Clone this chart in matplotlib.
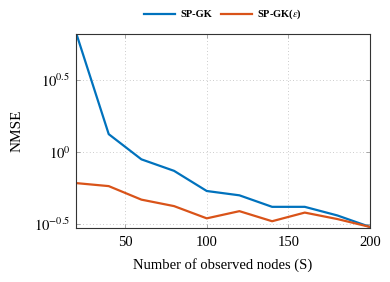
import numpy as np
import matplotlib
matplotlib.use("Agg")
import matplotlib.pyplot as plt

# data (log10 of NMSE)
nodes = [20, 40, 60, 80, 100, 120, 140, 160, 180, 200]
log_sp_gk = [0.83, 0.125, -0.05, -0.13, -0.27, -0.30, -0.38, -0.38, -0.44, -0.52]
log_sp_gk_eps = [-0.215, -0.236, -0.33, -0.375, -0.46, -0.41, -0.48, -0.42, -0.465, -0.52]

sp_gk = 10 ** np.array(log_sp_gk)
sp_gk_eps = 10 ** np.array(log_sp_gk_eps)

plt.rcParams['font.family'] = ['Liberation Serif', 'DejaVu Serif']
plt.rcParams['mathtext.fontset'] = 'stix'

fig = plt.figure(figsize=(3.9, 2.82), dpi=100)
ax = fig.add_axes([0.195, 0.191, 0.754, 0.688])

ax.plot(nodes, sp_gk, color='#0072BD', lw=1.6, label='SP-GK')
ax.plot(nodes, sp_gk_eps, color='#D95319', lw=1.6, label=r'SP-GK($\epsilon$)')

ax.set_yscale('log')
ax.set_xlim(20, 200)
ax.set_ylim(10 ** -0.528, 10 ** 0.82)
ax.set_xticks([50, 100, 150, 200])
ax.set_yticks([10 ** -0.5, 1, 10 ** 0.5])
ax.set_yticklabels([r'$10^{-0.5}$', r'$10^{0}$', r'$10^{0.5}$'])
ax.yaxis.set_minor_locator(matplotlib.ticker.NullLocator())
ax.tick_params(direction='in', top=True, right=True, length=3, width=0.5,
               color='#888888', labelsize=10.5)
ax.tick_params(axis='x', pad=6)
ax.tick_params(axis='y', pad=4)
ax.grid(True, linestyle=(0, (1, 3)), color='#bbbbbb', lw=0.6)
for s in ax.spines.values():
    s.set_linewidth(0.8)
    s.set_color('#333333')

ax.set_xlabel('Number of observed nodes (S)', fontsize=10.5, labelpad=6)
ax.set_ylabel('NMSE', fontsize=11, labelpad=8)

leg = ax.legend(loc='center', bbox_to_anchor=(0.5, 1.1), ncol=2, frameon=False,
                prop={'weight': 'bold', 'size': 7.5}, handlelength=3,
                columnspacing=0.8, handletextpad=0.5)

fig.savefig('out.png', dpi=100)
